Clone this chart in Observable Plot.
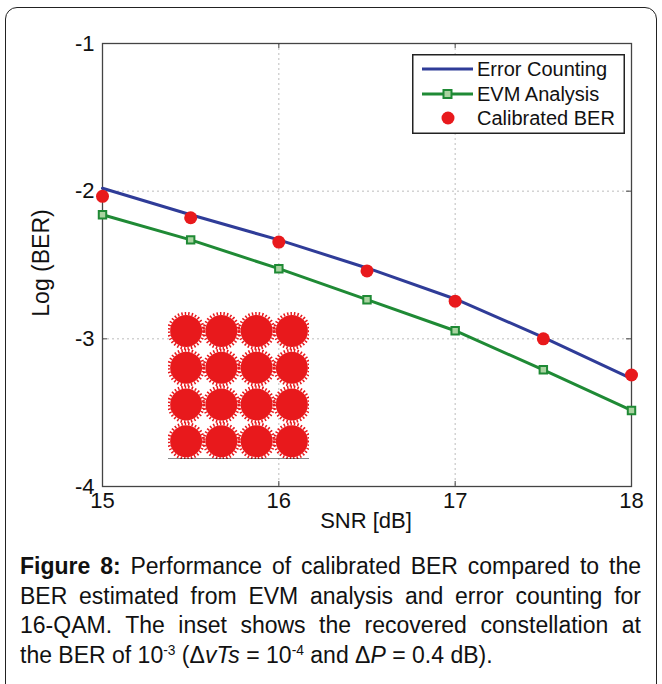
<!DOCTYPE html>
<html>
<head>
<meta charset="utf-8">
<script src="https://cdn.jsdelivr.net/npm/d3@7"></script>
<script src="https://cdn.jsdelivr.net/npm/@observablehq/plot@0.6"></script>
<style>
  body { margin: 0; background: #fff; font-family: "Liberation Sans", Arial, sans-serif; color: #111; }
  #page { position: relative; width: 662px; height: 684px; overflow: hidden; }
  #border { position: absolute; left: 5px; top: 7px; width: 652px; height: 720px; border: 1.5px solid #222; border-radius: 12px 12px 0 0; box-sizing: border-box; }
  #chart { position: absolute; left: 0; top: 0; }
  #inset { position: absolute; left: 168px; top: 312px; }
  #legend { position: absolute; left: 412px; top: 54px; }
  .axlabel { position: absolute; white-space: nowrap; }
  #xlabel { left: 366px; top: 521px; font-size: 22px; transform: translate(-50%, -50%); }
  #ylabel { left: 41px; top: 263px; font-size: 23px; transform: translate(-50%, -50%) rotate(-90deg); }
  #caption { position: absolute; left: 20px; top: 552px; width: 621px; font-size: 23px; line-height: 29.7px; color: #111; }
  #caption div { text-align: justify; text-align-last: justify; white-space: nowrap; }
  #caption div.last { text-align-last: left; }
  #caption sup { font-size: 0.6em; vertical-align: 0.6em; line-height: 0; }
</style>
</head>
<body>
<div id="page">
  <div id="border"></div>
  <div id="chart"></div>
  <div id="inset"></div>
  <div id="legend"></div>
  <div id="xlabel" class="axlabel"></div>
  <div id="ylabel" class="axlabel"></div>
  <div id="caption"></div>
</div>
<script>
// ---- data ----
const snr = [15, 15.5, 16, 16.5, 17, 17.5, 18];
const errorCounting = [-1.98, -2.16, -2.33, -2.52, -2.73, -2.99, -3.27];
const evmAnalysis = [-2.16, -2.33, -2.525, -2.735, -2.945, -3.21, -3.485];
const calibratedBER = [-2.035, -2.18, -2.345, -2.54, -2.745, -3.0, -3.245];

const xTicks = [15, 16, 17, 18];
const yTicks = [-4, -3, -2, -1];
const xLabel = "SNR [dB]";
const yLabel = "Log (BER)";
const seriesNames = ["Error Counting", "EVM Analysis", "Calibrated BER"];

// 16-QAM constellation levels (inset)
const qamI = [-3, -1, 1, 3];
const qamQ = [-3, -1, 1, 3];

const captionLines = [
  "<b>Figure 8:</b> Performance of calibrated BER compared to the",
  "BER estimated from EVM analysis and error counting for",
  "16-QAM. The inset shows the recovered constellation at",
  "the BER of 10<sup>-3</sup> (Δ<i>vTs</i> = 10<sup>-4</sup> and Δ<i>P</i> = 0.4 dB)."
];

// ---- build table ----
const rows = snr.map((s, i) => ({snr: s, ec: errorCounting[i], evm: evmAnalysis[i], cal: calibratedBER[i]}));

const blue = "#2f3c98", green = "#1f8a35", red = "#e8191c";
const W = 662, H = 540;
const mL = 102, mR = 31, mT = 43, mB = 54;
const fw = W - mL - mR, fh = H - mT - mB;
const tk = 5;

const chart = Plot.plot({
  width: W, height: H,
  marginLeft: mL, marginRight: mR, marginTop: mT, marginBottom: mB,
  style: {fontFamily: "Liberation Sans, Arial, sans-serif", fontSize: "22px", color: "#111", background: "transparent"},
  x: {domain: [15, 18], ticks: xTicks, tickSize: 0, tickPadding: 6, label: null, tickFormat: d => String(d)},
  y: {domain: [-4, -1], ticks: yTicks, tickSize: 0, tickPadding: 8, label: null, tickFormat: d => String(d)},
  marks: [
    Plot.ruleX(xTicks.slice(1, -1), {stroke: "#bdbdbd", strokeDasharray: "2,3", strokeWidth: 1}),
    Plot.ruleY(yTicks.slice(1, -1), {stroke: "#bdbdbd", strokeDasharray: "2,3", strokeWidth: 1}),
    Plot.tickX(xTicks, {x: d => d, insetTop: fh - tk, stroke: "#444"}),
    Plot.tickX(xTicks, {x: d => d, insetBottom: fh - tk, stroke: "#444"}),
    Plot.tickY(yTicks, {y: d => d, insetRight: fw - tk, stroke: "#444"}),
    Plot.tickY(yTicks, {y: d => d, insetLeft: fw - tk, stroke: "#444"}),
    Plot.frame({stroke: "#444", strokeWidth: 1.3}),
    Plot.line(rows, {x: "snr", y: "evm", stroke: green, strokeWidth: 3}),
    Plot.dot(rows, {x: "snr", y: "evm", symbol: "square", r: 4.2, stroke: green, strokeWidth: 2, fill: "#a9d3a0"}),
    Plot.line(rows, {x: "snr", y: "ec", stroke: blue, strokeWidth: 3}),
    Plot.dot(rows, {x: "snr", y: "cal", r: 6.5, fill: red, stroke: "none"})
  ]
});
document.getElementById("chart").appendChild(chart);

// ---- inset constellation ----
const qam = qamI.flatMap(i => qamQ.map(q => ({i, q})));
const inset = Plot.plot({
  width: 141, height: 147,
  margin: 0,
  style: {background: "transparent"},
  x: {domain: [-4, 4], axis: null},
  y: {domain: [-4, 4], axis: null},
  marks: [
    Plot.dot(qam, {x: "i", y: "q", r: 17.5, fill: "none", stroke: red, strokeWidth: 3, strokeDasharray: "1.5,2"}),
    Plot.dot(qam, {x: "i", y: "q", r: 16, fill: red}),
    Plot.ruleY([-4], {stroke: "#111", strokeWidth: 2})
  ]
});
document.getElementById("inset").appendChild(inset);

// ---- legend ----
const lg = d3.create("svg").attr("width", 213).attr("height", 80)
  .style("font-family", "Liberation Sans, Arial, sans-serif").style("font-size", "20px");
lg.append("rect").attr("x", 0.75).attr("y", 0.75).attr("width", 211.5).attr("height", 78.5)
  .attr("fill", "#fff").attr("stroke", "#222").attr("stroke-width", 1.5);
const rowY = [15, 40, 64];
lg.append("line").attr("x1", 10).attr("x2", 61).attr("y1", rowY[0]).attr("y2", rowY[0]).attr("stroke", blue).attr("stroke-width", 3);
lg.append("line").attr("x1", 10).attr("x2", 61).attr("y1", rowY[1]).attr("y2", rowY[1]).attr("stroke", green).attr("stroke-width", 3);
lg.append("rect").attr("x", 31.5).attr("y", rowY[1] - 4).attr("width", 8).attr("height", 8).attr("fill", "#a9d3a0").attr("stroke", green).attr("stroke-width", 2);
lg.append("circle").attr("cx", 36).attr("cy", rowY[2]).attr("r", 6.5).attr("fill", red);
seriesNames.forEach((n, k) => {
  lg.append("text").attr("x", 65).attr("y", rowY[k]).attr("dy", "0.35em").attr("fill", "#111").text(n);
});
document.getElementById("legend").appendChild(lg.node());

document.getElementById("xlabel").textContent = xLabel;
document.getElementById("ylabel").textContent = yLabel;
document.getElementById("caption").innerHTML = captionLines.map((l, k) => `<div class="${k === captionLines.length - 1 ? "last" : ""}">${l}</div>`).join("");
</script>
</body>
</html>
